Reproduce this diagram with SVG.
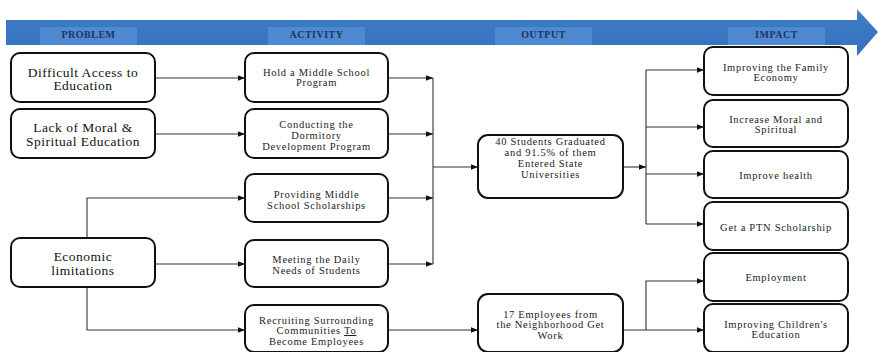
<svg xmlns="http://www.w3.org/2000/svg" width="878" height="352" viewBox="0 0 878 352">
  <defs>
    <linearGradient id="band" x1="0" y1="0" x2="0" y2="1">
      <stop offset="0" stop-color="#5E95D6"/>
      <stop offset="0.12" stop-color="#3F7CC6"/>
      <stop offset="1" stop-color="#3470BC"/>
    </linearGradient>
    <marker id="arr" viewBox="0 0 10 10" refX="10" refY="5" markerWidth="7" markerHeight="7" markerUnits="userSpaceOnUse" orient="auto">
      <path d="M0,1 L10,5 L0,9 Z" fill="#111"/>
    </marker>
  </defs>
  <style>
    .box { fill: #fff; stroke: #111; stroke-width: 2; }
    text { font-family: 'Liberation Serif', 'DejaVu Serif', 'Times New Roman', serif; text-anchor: middle; }
    .big { font-size: 13.5px; letter-spacing: 0.5px; fill: #111; }
    .sm { font-size: 10.5px; letter-spacing: 0.7px; fill: #222; }
    .hdr { font-size: 10px; font-weight: bold; letter-spacing: 0.5px; fill: #1F3560; }
    .lab { fill: #4E89D1; }
    .con { fill: none; stroke: #333; stroke-width: 1.1; }
  </style>
  <rect width="878" height="352" fill="#fff"/>

  <!-- banner arrow -->
  <g id="banner">
    <path d="M6,20 L857,20 L857,9 L878,32 L857,56 L857,45 L6,45 Z" fill="url(#band)"/>
    <rect class="lab" x="40" y="27" width="97" height="18"/>
    <rect class="lab" x="268" y="27" width="97" height="18"/>
    <rect class="lab" x="495" y="27" width="97" height="18"/>
    <rect class="lab" x="728" y="27" width="97" height="18"/>
    <text class="hdr" x="88.5" y="37.5">PROBLEM</text>
    <text class="hdr" x="316.5" y="37.5">ACTIVITY</text>
    <text class="hdr" x="543.5" y="37.5">OUTPUT</text>
    <text class="hdr" x="776.5" y="37.5">IMPACT</text>
  </g>

  <!-- connectors -->
  <g id="connectors">
    <path class="con" d="M155,78 L245,78" marker-end="url(#arr)"/>
    <path class="con" d="M155,134 L245,134" marker-end="url(#arr)"/>
    <path class="con" d="M87,238 L87,198 L245,198" marker-end="url(#arr)"/>
    <path class="con" d="M155,264 L245,264" marker-end="url(#arr)"/>
    <path class="con" d="M87,287 L87,330 L245,330" marker-end="url(#arr)"/>

    <path class="con" d="M388,78 L433,78" marker-end="url(#arr)"/>
    <path class="con" d="M388,134 L433,134" marker-end="url(#arr)"/>
    <path class="con" d="M388,198 L433,198" marker-end="url(#arr)"/>
    <path class="con" d="M388,264 L433,264" marker-end="url(#arr)"/>
    <path class="con" d="M433,78 L433,264"/>
    <path class="con" d="M433,167 L478,167" marker-end="url(#arr)"/>

    <path class="con" d="M623,167 L646,167" marker-end="url(#arr)"/>
    <path class="con" d="M646,70 L646,224"/>
    <path class="con" d="M646,70 L704,70" marker-end="url(#arr)"/>
    <path class="con" d="M646,127 L704,127" marker-end="url(#arr)"/>
    <path class="con" d="M646,174 L704,174" marker-end="url(#arr)"/>
    <path class="con" d="M646,224 L704,224" marker-end="url(#arr)"/>

    <path class="con" d="M388,330 L478,330" marker-end="url(#arr)"/>
    <path class="con" d="M623,330 L704,330" marker-end="url(#arr)"/>
    <path class="con" d="M646,330 L646,281 L704,281" marker-end="url(#arr)"/>
  </g>

  <!-- problems -->
  <g id="p1">
    <rect class="box" x="11" y="53" width="144" height="49" rx="9"/>
    <text class="big" x="83" y="76.5">Difficult Access to</text>
    <text class="big" x="83" y="90">Education</text>
  </g>
  <g id="p2">
    <rect class="box" x="11" y="109" width="144" height="49" rx="9"/>
    <text class="big" x="83" y="132">Lack of Moral &amp;</text>
    <text class="big" x="83" y="145.5">Spiritual Education</text>
  </g>
  <g id="p3">
    <rect class="box" x="11" y="238" width="144" height="49" rx="9"/>
    <text class="big" x="83" y="261">Economic</text>
    <text class="big" x="83" y="274.5">limitations</text>
  </g>

  <!-- activities -->
  <g id="a1">
    <rect class="box" x="245" y="53" width="143" height="49" rx="9"/>
    <text class="sm" x="316.5" y="75.5">Hold a Middle School</text>
    <text class="sm" x="316.5" y="86">Program</text>
  </g>
  <g id="a2">
    <rect class="box" x="245" y="109" width="143" height="49" rx="9"/>
    <text class="sm" x="316.5" y="127.5">Conducting the</text>
    <text class="sm" x="316.5" y="138.5">Dormitory</text>
    <text class="sm" x="316.5" y="149.5">Development Program</text>
  </g>
  <g id="a3">
    <rect class="box" x="245" y="174" width="143" height="48" rx="9"/>
    <text class="sm" x="316.5" y="197.5">Providing Middle</text>
    <text class="sm" x="316.5" y="208.5">School Scholarships</text>
  </g>
  <g id="a4">
    <rect class="box" x="245" y="240" width="143" height="47" rx="9"/>
    <text class="sm" x="316.5" y="262.5">Meeting the Daily</text>
    <text class="sm" x="316.5" y="273.5">Needs of Students</text>
  </g>
  <g id="a5">
    <rect class="box" x="245" y="305" width="143" height="47" rx="9"/>
    <text class="sm" x="316.5" y="323.5">Recruiting Surrounding</text>
    <text class="sm" x="316.5" y="334">Communities <tspan text-decoration="underline">To</tspan></text>
    <text class="sm" x="316.5" y="344.5">Become Employees</text>
  </g>

  <!-- outputs -->
  <g id="o1">
    <rect class="box" x="478" y="135" width="145" height="63" rx="10"/>
    <text class="sm" x="550.5" y="145">40 Students Graduated</text>
    <text class="sm" x="550.5" y="156">and 91.5% of them</text>
    <text class="sm" x="550.5" y="167">Entered State</text>
    <text class="sm" x="550.5" y="178">Universities</text>
  </g>
  <g id="o2">
    <rect class="box" x="478" y="294" width="145" height="58" rx="10"/>
    <text class="sm" x="550.5" y="317.5">17 Employees from</text>
    <text class="sm" x="550.5" y="328">the Neighborhood Get</text>
    <text class="sm" x="550.5" y="338.5">Work</text>
  </g>

  <!-- impacts -->
  <g id="i1">
    <rect class="box" x="704" y="47" width="144" height="48" rx="9"/>
    <text class="sm" x="776" y="70.5">Improving the Family</text>
    <text class="sm" x="776" y="81">Economy</text>
  </g>
  <g id="i2">
    <rect class="box" x="704" y="100" width="144" height="47" rx="9"/>
    <text class="sm" x="776" y="122.5">Increase Moral and</text>
    <text class="sm" x="776" y="133">Spiritual</text>
  </g>
  <g id="i3">
    <rect class="box" x="704" y="151" width="144" height="47" rx="9"/>
    <text class="sm" x="776" y="178.5">Improve health</text>
  </g>
  <g id="i4">
    <rect class="box" x="704" y="202" width="144" height="48" rx="9"/>
    <text class="sm" x="776" y="230.5">Get a PTN Scholarship</text>
  </g>
  <g id="i5">
    <rect class="box" x="704" y="253" width="144" height="48" rx="9"/>
    <text class="sm" x="776" y="280.5">Employment</text>
  </g>
  <g id="i6">
    <rect class="box" x="704" y="304" width="144" height="48" rx="9"/>
    <text class="sm" x="776" y="327.5">Improving Children's</text>
    <text class="sm" x="776" y="338">Education</text>
  </g>
</svg>
